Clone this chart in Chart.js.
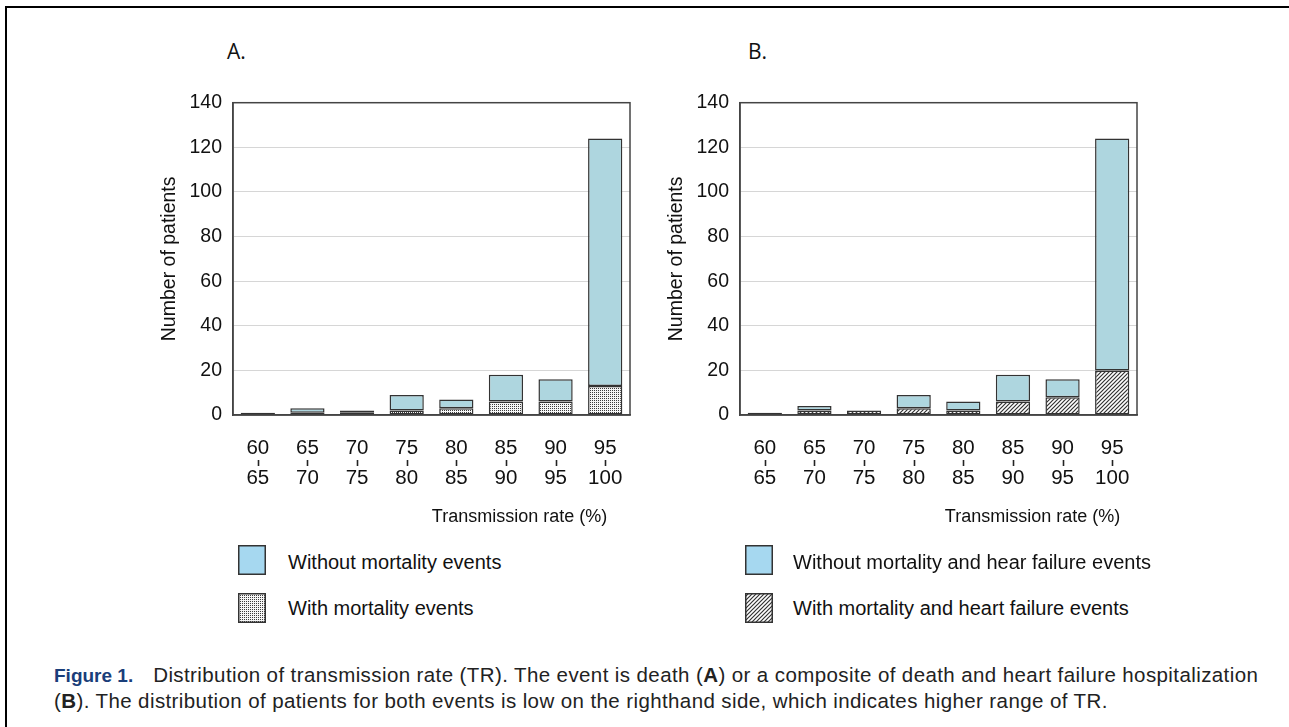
<!DOCTYPE html>
<html>
<head>
<meta charset="utf-8">
<script src="https://cdn.jsdelivr.net/npm/chart.js@4.4.1/dist/chart.umd.min.js"></script>
<style>
  body { margin: 0; width: 1289px; height: 727px; position: relative; overflow: hidden; background: #fff;
         font-family: "Liberation Sans", Arial, sans-serif; color: #111; }
  #frame { position: absolute; left: 5px; top: 6px; width: 1300px; height: 740px;
           border-top: 2.5px solid #000; border-left: 2.5px solid #000; }
  .letter { position: absolute; top: 37px; font-family: "Open Sans", sans-serif; font-size: 21px; }
  .box { position: absolute; top: 80px; width: 520px; height: 460px; }
  .sw { position: absolute; width: 28px; height: 30px; }
  .lg { position: absolute; font-size: 20px; line-height: 24px; }
  #caption { position: absolute; left: 54px; top: 662px; font-size: 20.5px; letter-spacing: 0.4px;
             line-height: 25px; color: #222; white-space: nowrap; }
  #caption b.fig { color: #1a3e7a; margin-right: 20px; letter-spacing: 0; font-size: 19px; }
</style>
</head>
<body>
<div id="frame"></div>
<div class="letter" style="left:227px">A.</div>
<div class="letter" style="left:748px">B.</div>
<canvas id="chartA" class="box" style="left:130px" width="520" height="460"></canvas>
<canvas id="chartB" class="box" style="left:637px" width="520" height="460"></canvas>

<canvas id="swA1" class="sw" style="left:238px;top:545px" width="28" height="30"></canvas>
<canvas id="swA2" class="sw" style="left:238px;top:593px" width="28" height="30"></canvas>
<div class="lg" style="left:288px;top:550px">Without mortality events</div>
<div class="lg" style="left:288px;top:596px">With mortality events</div>

<canvas id="swB1" class="sw" style="left:745px;top:545px" width="28" height="30"></canvas>
<canvas id="swB2" class="sw" style="left:745px;top:593px" width="28" height="30"></canvas>
<div class="lg" style="left:793px;top:550px">Without mortality and hear failure events</div>
<div class="lg" style="left:793px;top:596px">With mortality and heart failure events</div>

<div id="caption"><b class="fig">Figure 1.</b>Distribution of transmission rate (TR). The event is death (<b>A</b>) or a composite of death and heart failure hospitalization<br>(<b>B</b>). The distribution of patients for both events is low on the righthand side, which indicates higher range of TR.</div>

<script>
// TR ranges (lower / upper bound of each bin)
const rangeFrom = ['60', '65', '70', '75', '80', '85', '90', '95'];
const rangeTo = ['65', '70', '75', '80', '85', '90', '95', '100'];

// Panel A: death
const deathWith = [1, 1, 1, 2, 3, 6, 6, 13];
const deathWithout = [0, 2, 1, 7, 4, 12, 10, 111];

// Panel B: death or heart failure hospitalization
const compWith = [1, 2, 2, 3, 2, 6, 8, 20];
const compWithout = [0, 2, 0, 6, 4, 12, 8, 104];

const yMax = 140;
const yStep = 20;

const FONT = '"Liberation Sans", Arial, sans-serif';
const BLUE = '#aed6df';
const EDGE = '#333';

function dotPattern(ctx) {
    const c = document.createElement('canvas');
    c.width = c.height = 2;
    const g = c.getContext('2d');
    g.fillStyle = '#f6f6f6';
    g.fillRect(0, 0, 2, 2);
    g.fillStyle = '#3c3c3c';
    g.fillRect(0, 0, 1, 1);
    return ctx.createPattern(c, 'repeat');
}

function hatchPattern(ctx) {
    const c = document.createElement('canvas');
    c.width = c.height = 4;
    const g = c.getContext('2d');
    g.fillStyle = '#fff';
    g.fillRect(0, 0, 4, 4);
    g.strokeStyle = '#333';
    g.lineWidth = 1.2;
    g.beginPath();
    g.moveTo(0, 4); g.lineTo(4, 0);
    g.moveTo(-1, 1); g.lineTo(1, -1);
    g.moveTo(3, 5); g.lineTo(5, 3);
    g.stroke();
    return ctx.createPattern(c, 'repeat');
}

// frame around the plot area + small dash between the two label lines + x title
const decorations = {
    id: 'decorations',
    afterDraw(chart, args, opts) {
        const { ctx, chartArea: a } = chart;
        const xs = chart.scales.x;
        ctx.save();
        ctx.strokeStyle = '#444';
        ctx.lineWidth = 1.5;
        ctx.strokeRect(a.left, a.top, a.right - a.left, a.bottom - a.top);

        ctx.strokeStyle = '#222';
        ctx.lineWidth = 1.6;
        xs.ticks.forEach((t, i) => {
            const x = Math.round(xs.getPixelForTick(i)) + 0.5;
            ctx.beginPath();
            ctx.moveTo(x, a.bottom + 45);
            ctx.lineTo(x, a.bottom + 51);
            ctx.stroke();
        });

        ctx.fillStyle = '#111';
        ctx.font = '18px ' + FONT;
        ctx.textAlign = 'center';
        ctx.textBaseline = 'middle';
        ctx.fillText('Transmission rate (%)', (a.left + a.right) / 2 + opts.shift, a.bottom + 102);
        ctx.restore();
    }
};

function makeChart(id, withVals, withoutVals, lowerFill, shift) {
    const ctx = document.getElementById(id).getContext('2d');
    const labels = rangeFrom.map((f, i) => [f, rangeTo[i]]);
    return new Chart(ctx, {
        type: 'bar',
        data: {
            labels: labels,
            datasets: [
                { label: 'with', data: withVals, backgroundColor: lowerFill, borderColor: EDGE, borderWidth: 1.5, borderSkipped: false },
                { label: 'without', data: withoutVals, backgroundColor: BLUE, borderColor: EDGE, borderWidth: 1.5, borderSkipped: false }
            ]
        },
        options: {
            responsive: false,
            animation: false,
            devicePixelRatio: 1,
            barPercentage: 0.69,
            categoryPercentage: 1,
            layout: { padding: { top: 20, right: 20, left: 0, bottom: 0 } },
            plugins: {
                legend: { display: false },
                tooltip: { enabled: false },
                decorations: { shift: shift }
            },
            scales: {
                x: {
                    stacked: true,
                    grid: { display: false, drawTicks: false },
                    border: { color: '#444', width: 1.5 },
                    ticks: { padding: 18, color: '#111', maxRotation: 0, autoSkip: false,
                             font: { family: FONT, size: 20.5, lineHeight: 1.46 } },
                    afterFit(s) { s.height = 125; }
                },
                y: {
                    stacked: true,
                    min: 0,
                    max: yMax,
                    grid: { color: '#d6d6d6', drawTicks: false },
                    border: { color: '#444', width: 1.5 },
                    ticks: { stepSize: yStep, padding: 11, color: '#111', font: { family: FONT, size: 19.5 } },
                    title: { display: true, text: 'Number of patients', color: '#111',
                             font: { family: FONT, size: 19.5 }, padding: { top: 28, bottom: 0 } },
                    afterFit(s) { s.width = 103; }
                }
            }
        },
        plugins: [decorations]
    });
}

const ctxA = document.getElementById('chartA').getContext('2d');
const ctxB = document.getElementById('chartB').getContext('2d');
makeChart('chartA', deathWith, deathWithout, dotPattern(ctxA), 88);
makeChart('chartB', compWith, compWithout, hatchPattern(ctxB), 94);

// legend swatches
function swatch(id, fill) {
    const g = document.getElementById(id).getContext('2d');
    g.fillStyle = fill;
    g.fillRect(0, 0, 28, 30);
    g.strokeStyle = EDGE;
    g.lineWidth = 1.5;
    g.strokeRect(0.75, 0.75, 26.5, 28.5);
}
swatch('swA1', '#a6d8f0');
swatch('swA2', dotPattern(document.getElementById('swA2').getContext('2d')));
swatch('swB1', '#a6d8f0');
swatch('swB2', hatchPattern(document.getElementById('swB2').getContext('2d')));
</script>
</body>
</html>
